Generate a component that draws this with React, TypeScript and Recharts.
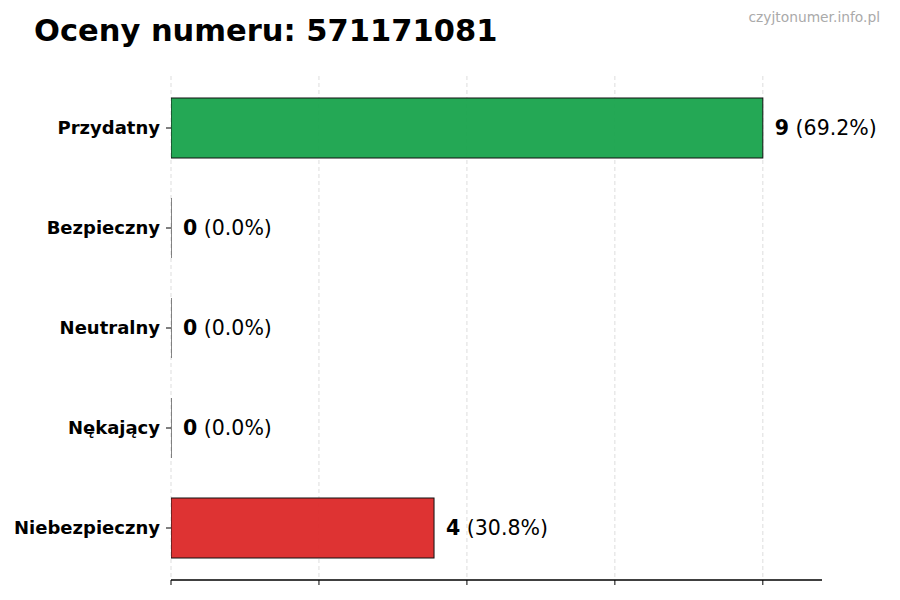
import React from 'react'
import { BarChart, Bar, XAxis, YAxis, CartesianGrid, Cell } from 'recharts'

const categories = ['Przydatny', 'Bezpieczny', 'Neutralny', 'Nękający', 'Niebezpieczny']
const counts = [9, 0, 0, 0, 4]
const colors = ['#16a34a', '#6b7280', '#3b82f6', '#f59e0b', '#dc2626']
const xTicks = [0, 2.25, 4.5, 6.75, 9]

const total = counts.reduce((a, b) => a + b, 0)
const data = categories.map((name, i) => ({ name, value: counts[i] }))
const xMax = Math.max(...counts) * 1.1

const FONT = '"DejaVu Sans", sans-serif'

function BarShape(props: any) {
  const { x, y, width, height, fill } = props
  if (!width || width < 1) {
    return <line x1={x} x2={x} y1={y} y2={y + height} stroke="#111" strokeWidth={1} />
  }
  return (
    <rect
      x={x}
      y={y}
      width={width}
      height={height}
      fill={fill}
      fillOpacity={0.94}
      stroke="#111"
      strokeWidth={1}
    />
  )
}

function renderLabel(props: any) {
  const { x, y, width, height, value } = props
  const pct = total ? ((value / total) * 100).toFixed(1) : '0.0'
  return (
    <text
      x={x + (width || 0) + 12}
      y={y + height / 2}
      dominantBaseline="central"
      fontFamily={FONT}
      fontSize={20.5}
      fill="#000"
    >
      <tspan fontWeight="bold">{value}</tspan>
      <tspan>{` (${pct}%)`}</tspan>
    </text>
  )
}

// grid lines only at the tick values (no extra line at the right edge)
function gridX({ xAxis, offset }: any) {
  const scale = xAxis && xAxis.scale
  if (typeof scale === 'function') return xTicks.map((t) => scale(t))
  return xTicks.map((t) => offset.left + (t / xMax) * offset.width)
}

export default function App() {
  return (
    <div style={{ position: 'fixed', left: 0, top: 0, width: 900, height: 600, background: '#fff', fontFamily: FONT }}>
      <div style={{ position: 'absolute', left: 34, top: 16, fontSize: 30.5, lineHeight: 1, fontWeight: 'bold', color: '#000', whiteSpace: 'nowrap' }}>
        Oceny numeru: 571171081
      </div>
      <div style={{ position: 'absolute', right: 20, top: 10.5, fontSize: 13.8, lineHeight: 1, color: '#aaaaaa', whiteSpace: 'nowrap' }}>
        czyjtonumer.info.pl
      </div>
      <BarChart
        width={900}
        height={600}
        data={data}
        layout="vertical"
        margin={{ top: 76, right: 78, bottom: 0, left: 0 }}
        barSize={60}
      >
        <CartesianGrid
          horizontal={false}
          stroke="#d4d4d4"
          strokeDasharray="4 3"
          strokeWidth={0.8}
          verticalCoordinatesGenerator={gridX}
        />
        <XAxis
          type="number"
          domain={[0, xMax]}
          ticks={xTicks}
          tickFormatter={() => ''}
          height={20}
          axisLine={{ stroke: '#000', strokeWidth: 1.3 }}
          tickLine={{ stroke: '#000', strokeWidth: 1 }}
          tickSize={5}
          allowDataOverflow
        />
        <YAxis
          type="category"
          dataKey="name"
          width={171}
          axisLine={false}
          tickLine={{ stroke: '#000', strokeWidth: 1 }}
          tickSize={5}
          tickMargin={6}
          padding={{ top: 2, bottom: 2 }}
          tick={{ fontFamily: FONT, fontSize: 18, fontWeight: 'bold', fill: '#000' }}
        />
        <Bar dataKey="value" isAnimationActive={false} shape={BarShape} label={renderLabel}>
          {data.map((d, i) => (
            <Cell key={d.name} fill={colors[i]} />
          ))}
        </Bar>
      </BarChart>
    </div>
  )
}
